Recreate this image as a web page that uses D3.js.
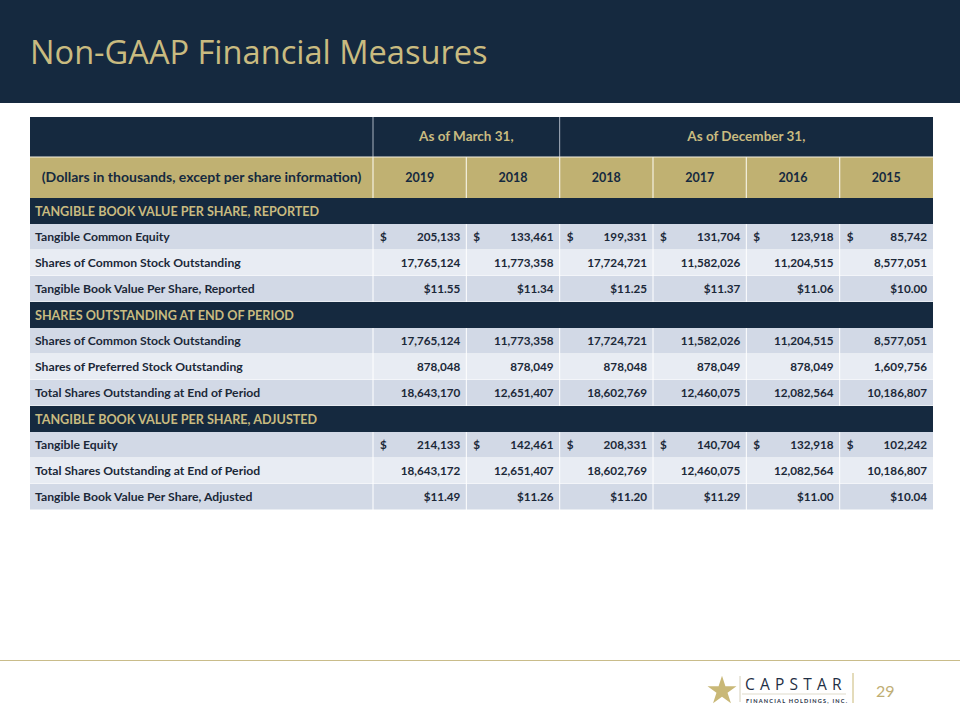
<!DOCTYPE html>
<html><head><meta charset="utf-8">
<script src="https://cdn.jsdelivr.net/npm/d3@7"></script>
<style>
html,body{margin:0;padding:0;background:#fff;}
svg{display:block;font-family:Lato,"Open Sans",sans-serif;}
</style></head>
<body><svg id="c" width="960" height="720"></svg>
<script>
// ---------- data ----------
const title = "Non-GAAP Financial Measures";
const periodGroups = ["As of March 31,", "As of December 31,"];
const periodSpans = [2, 4];
const years = ["2019", "2018", "2018", "2017", "2016", "2015"];
const unitsNote = "(Dollars in thousands, except per share information)";
const sectionTitles = [
  "TANGIBLE BOOK VALUE PER SHARE, REPORTED",
  "SHARES OUTSTANDING AT END OF PERIOD",
  "TANGIBLE BOOK VALUE PER SHARE, ADJUSTED"
];
const rowLabels = [
  ["Tangible  Common Equity", "Shares of Common Stock Outstanding", "Tangible  Book Value Per Share, Reported"],
  ["Shares of Common Stock Outstanding", "Shares of Preferred Stock Outstanding", "Total Shares Outstanding at End of Period"],
  ["Tangible  Equity", "Total Shares Outstanding at End of Period", "Tangible  Book Value Per Share, Adjusted"]
];
const rowFormats = [["dollar","count","price"],["count","count","count"],["dollar","count","price"]];
const tangibleCommonEquity = [205133, 133461, 199331, 131704, 123918, 85742];
const sharesCommonReported = [17765124, 11773358, 17724721, 11582026, 11204515, 8577051];
const tbvpsReported = [11.55, 11.34, 11.25, 11.37, 11.06, 10.00];
const sharesCommon = [17765124, 11773358, 17724721, 11582026, 11204515, 8577051];
const sharesPreferred = [878048, 878049, 878048, 878049, 878049, 1609756];
const totalSharesEnd = [18643170, 12651407, 18602769, 12460075, 12082564, 10186807];
const tangibleEquity = [214133, 142461, 208331, 140704, 132918, 102242];
const totalSharesAdj = [18643172, 12651407, 18602769, 12460075, 12082564, 10186807];
const tbvpsAdjusted = [11.49, 11.26, 11.20, 11.29, 11.00, 10.04];
const rowValues = [
  [tangibleCommonEquity, sharesCommonReported, tbvpsReported],
  [sharesCommon, sharesPreferred, totalSharesEnd],
  [tangibleEquity, totalSharesAdj, tbvpsAdjusted]
];
const pageNumber = "29";

// ---------- style ----------
const NAVY = "#15293f", GOLD = "#c0b172", GOLDTXT = "#c9bb80";
const ROW_DARK = "#d2d9e6", ROW_LIGHT = "#e8ecf3", TXT = "#1b2838";

const svg = d3.select("#c");
// header band
svg.append("rect").attr("x",0).attr("y",0).attr("width",960).attr("height",103).attr("fill",NAVY);
svg.append("text").attr("x",30).attr("y",64).attr("fill",GOLDTXT)
  .attr("font-size",32.6).attr("font-family","'Open Sans',Lato,sans-serif").text(title);

// table geometry via scales
const tableLeft = 30, tableRight = 933, labelRight = 373;
const x = d3.scaleBand().domain(d3.range(years.length)).range([labelRight, tableRight]).paddingInner(0).paddingOuter(0);

// row list
const rows = [];
rows.push({type:"group"});
rows.push({type:"years"});
sectionTitles.forEach((t,s)=>{
  rows.push({type:"section", text:t});
  rowLabels[s].forEach((lab,i)=>rows.push({type:"data", label:lab, values:rowValues[s][i], fmt:rowFormats[s][i], shade:i%2===0}));
});
const rowHeights = rows.map(r => r.type==="group"?40:(r.type==="years"?41:26));
const rowTops = [117];
rowHeights.forEach((h,i)=>rowTops.push(rowTops[i]+h));

const fmtInt = d3.format(",");
const fmtPrice = d3.format("$.2f");

const g = svg.append("g");
rows.forEach((r,i)=>{
  const y0 = rowTops[i], h = rowHeights[i], cy = y0 + h/2;
  if (r.type==="group") {
    g.append("rect").attr("x",tableLeft).attr("y",y0).attr("width",tableRight-tableLeft).attr("height",h).attr("fill",NAVY);
    let c = 0;
    periodGroups.forEach((p,k)=>{
      const xs = x(c), xe = x(c+periodSpans[k]-1)+x.bandwidth();
      g.append("text").attr("x",(xs+xe)/2).attr("y",cy+4).attr("text-anchor","middle")
        .attr("fill",GOLDTXT).attr("font-size",13.5).attr("font-weight",700).text(p);
      g.append("line").attr("x1",xs).attr("x2",xs).attr("y1",y0).attr("y2",y0+h).attr("stroke","#aab3c0").attr("stroke-width",1);
      c += periodSpans[k];
    });
  } else if (r.type==="years") {
    g.append("rect").attr("x",tableLeft).attr("y",y0).attr("width",tableRight-tableLeft).attr("height",h).attr("fill",GOLD);
    g.append("text").attr("x",(tableLeft+labelRight)/2).attr("y",cy+4.5).attr("text-anchor","middle")
      .attr("fill",NAVY).attr("font-size",14).attr("font-weight",700).text(unitsNote);
    years.forEach((yr,k)=>{
      g.append("text").attr("x",x(k)+x.bandwidth()/2).attr("y",cy+4.5).attr("text-anchor","middle")
        .attr("fill",NAVY).attr("font-size",12.5).attr("font-weight",700).text(yr);
      g.append("line").attr("x1",x(k)).attr("x2",x(k)).attr("y1",y0).attr("y2",y0+h).attr("stroke","#f4f0e0").attr("stroke-width",1.2);
    });
    g.append("line").attr("x1",tableLeft).attr("x2",tableRight).attr("y1",y0).attr("y2",y0).attr("stroke","#f4f0e0").attr("stroke-width",1.2);
  } else if (r.type==="section") {
    g.append("rect").attr("x",tableLeft).attr("y",y0).attr("width",tableRight-tableLeft).attr("height",h).attr("fill",NAVY);
    g.append("text").attr("x",35).attr("y",cy+4.5).attr("fill",GOLDTXT).attr("font-size",12.6).attr("font-weight",700).text(r.text);
  } else {
    g.append("rect").attr("x",tableLeft).attr("y",y0).attr("width",tableRight-tableLeft).attr("height",h).attr("fill",r.shade?ROW_DARK:ROW_LIGHT);
    g.append("text").attr("x",35).attr("y",cy+4).attr("fill",TXT).attr("font-size",12.2).attr("font-weight",700).text(r.label);
    r.values.forEach((v,k)=>{
      const xs = x(k), xe = xs + x.bandwidth();
      let s = r.fmt==="price" ? fmtPrice(v) : fmtInt(v);
      g.append("text").attr("x",xe-6).attr("y",cy+4).attr("text-anchor","end").attr("fill",TXT)
        .attr("font-size",11.7).attr("font-weight",700).text(s);
      if (r.fmt==="dollar") g.append("text").attr("x",xs+7).attr("y",cy+4).attr("fill",TXT)
        .attr("font-size",11.7).attr("font-weight",700).text("$");
      g.append("line").attr("x1",xs).attr("x2",xs).attr("y1",y0).attr("y2",y0+h).attr("stroke","#ffffff").attr("stroke-width",1);
    });
    g.append("line").attr("x1",tableLeft).attr("x2",tableRight).attr("y1",y0+h).attr("y2",y0+h).attr("stroke","#ffffff").attr("stroke-width",1);
  }
});

// footer
svg.append("line").attr("x1",0).attr("x2",960).attr("y1",660.5).attr("y2",660.5).attr("stroke","#c9bc8a").attr("stroke-width",1.2);
// star logo
const star = d3.symbol().type(d3.symbolStar).size(260)();
svg.append("path").attr("d",star).attr("transform","translate(722,691)").attr("fill","#c9b877");
svg.append("line").attr("x1",740).attr("x2",740).attr("y1",676).attr("y2",702).attr("stroke","#c9c3a8").attr("stroke-width",0.8);
svg.append("text").attr("x",745).attr("y",690).attr("fill","#1f2f45").attr("font-size",15.5).attr("letter-spacing",5.2)
  .attr("font-family","'Open Sans',sans-serif").text("CAPSTAR");
svg.append("line").attr("x1",742).attr("x2",846).attr("y1",694).attr("y2",694).attr("stroke","#c9c3a8").attr("stroke-width",0.6);
svg.append("text").attr("x",746).attr("y",703).attr("fill","#1f2f45").attr("font-size",5.6).attr("font-weight",700).attr("letter-spacing",1.2)
  .text("FINANCIAL HOLDINGS, INC.");
svg.append("line").attr("x1",853).attr("x2",853).attr("y1",673).attr("y2",703).attr("stroke","#c9b877").attr("stroke-width",1);
svg.append("text").attr("x",876).attr("y",697).attr("fill","#bfae74").attr("font-size",16).text(pageNumber);
</script></body></html>
